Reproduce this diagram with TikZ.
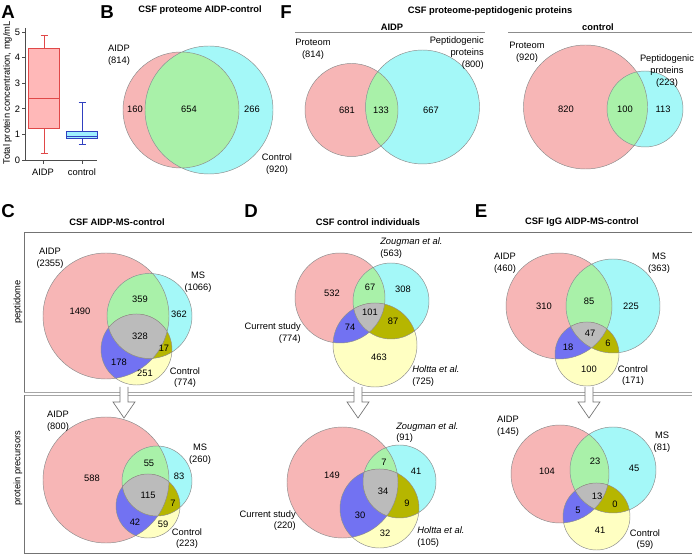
\documentclass[tikz,border=0pt]{standalone}
\usepackage{fontspec}
\setmainfont{Liberation Sans}
\definecolor{vpink}{HTML}{F7B6B6}
\definecolor{vcyan}{HTML}{A4F8F8}
\definecolor{vgreen}{HTML}{A9F1A9}
\definecolor{vblue}{HTML}{7272F2}
\definecolor{volive}{HTML}{B6B600}
\definecolor{vyellow}{HTML}{FFFFC2}
\definecolor{vgray}{HTML}{BBBBBB}
\definecolor{boxred}{HTML}{E04848}
\definecolor{boxpink}{HTML}{FFB8B8}
\definecolor{boxblue}{HTML}{3040C0}
\definecolor{boxcyan}{HTML}{A0F0FF}
\newcommand\vennTwo[6]{%
  \fill[vpink] (#1,#2) circle[radius=#3];
  \fill[vcyan] (#4,#5) circle[radius=#6];
  \begin{scope}\clip (#1,#2) circle[radius=#3];
    \fill[vgreen] (#4,#5) circle[radius=#6];\end{scope}
  \draw[vline] (#1,#2) circle[radius=#3] (#4,#5) circle[radius=#6];}
\newcommand\vennThree[9]{%
  \fill[vpink] (#1,#2) circle[radius=#3];
  \fill[vcyan] (#4,#5) circle[radius=#6];
  \fill[vyellow] (#7,#8) circle[radius=#9];
  \begin{scope}\clip (#1,#2) circle[radius=#3];
    \fill[vgreen] (#4,#5) circle[radius=#6];
    \fill[vblue] (#7,#8) circle[radius=#9];\end{scope}
  \begin{scope}\clip (#4,#5) circle[radius=#6];
    \fill[volive] (#7,#8) circle[radius=#9];
    \clip (#1,#2) circle[radius=#3];
    \fill[vgray] (#7,#8) circle[radius=#9];\end{scope}
  \draw[vline] (#1,#2) circle[radius=#3] (#4,#5) circle[radius=#6] (#7,#8) circle[radius=#9];}
\newcommand\hollowArrow[1]{%
  \fill[white] (#1-4,387) -- (#1+4,387) -- (#1+4,402) -- (#1+11,402) -- (#1,418) -- (#1-11,402) -- (#1-4,402) -- cycle;
  \draw[arrowline] (#1-4,387) -- (#1-4,402) -- (#1-11,402) -- (#1,418) -- (#1+11,402) -- (#1+4,402) -- (#1+4,387);}
\begin{document}
\begin{tikzpicture}[x=0.75pt,y=-0.75pt,
  lbl/.style={font=\fontsize{7}{8.8}\selectfont, inner sep=0pt, align=center},
  ttl/.style={font=\bfseries\fontsize{7}{8.8}\selectfont, inner sep=0pt},
  letter/.style={font=\bfseries\fontsize{14}{14}\selectfont, inner sep=0pt},
  vline/.style={draw=black!45, line width=0.35pt},
  frameline/.style={draw=black!55, line width=0.6pt},
  dblline/.style={draw=black!35, line width=0.6pt},
  arrowline/.style={draw=black!55, line width=0.5pt},
  axisline/.style={draw=black!70, line width=0.5pt}]
\useasboundingbox[fill=white] (0,0) rectangle (696,555);

% ---------- Panel A ----------
\node[letter] (letA) at (8,12.5) {A};
\draw[axisline] (25,28) -- (25,160) -- (97,160);
\foreach \v in {0,...,5}{
  \draw[axisline] (22,160-25.6*\v) -- (25,160-25.6*\v);
  \node[lbl] (tick\v) at (17.5,160-25.6*\v) {\v};}
\draw[axisline] (43,160) -- (43,164);
\draw[axisline] (82,160) -- (82,164);
\node[lbl] (xAIDP) at (43,172) {AIDP};
\node[lbl] (xcontrol) at (82,172) {control};
\node[lbl, rotate=90] (ylab) at (7.5,93) {Total protein concentration, mg/mL};
% AIDP box
\draw[boxred, line width=0.6pt] (44,48) -- (44,35) (40.5,35) -- (47.5,35)
  (44,128) -- (44,153) (40.5,153) -- (47.5,153);
\draw[boxred, fill=boxpink, line width=0.6pt] (28.5,48) rectangle (59.5,128);
\draw[boxred, line width=0.6pt] (28.5,98) -- (59.5,98);
% control box
\draw[boxblue, line width=0.6pt] (82,131) -- (82,102) (78.5,102) -- (85.5,102)
  (82,138) -- (82,144) (78.5,144) -- (85.5,144);
\draw[boxblue, fill=boxcyan, line width=0.6pt] (66.5,131) rectangle (97.5,138);
\draw[boxblue, line width=0.6pt] (66.5,136) -- (97.5,136);

% ---------- Panel B ----------
\node[letter] (letB) at (107,12) {B};
\node[ttl] (ttlB) at (200,10.5) {CSF proteome AIDP-control};
\vennTwo{181}{110}{58}{209}{110}{64}
\node[lbl] (bA) at (119,55) {AIDP\\(814)};
\node[lbl] (bC) at (277,164) {Control\\(920)};
\node[lbl] (b160) at (135,109) {160};
\node[lbl] (b654) at (189,109) {654};
\node[lbl] (b266) at (252,109) {266};

% ---------- Panel F ----------
\node[letter] (letF) at (286,12) {F};
\node[ttl] (ttlF) at (490,11) {CSF proteome-peptidogenic proteins};
\node[ttl] (ttlFa) at (392,27) {AIDP};
\node[ttl] (ttlFc) at (598,27) {control};
\draw[dblline, draw=black!45] (295,32.5) -- (485,32.5);
\draw[dblline, draw=black!45] (508,32.5) -- (692,32.5);
\vennTwo{351.5}{110}{46.5}{422.5}{107}{57}
\node[lbl] (fa1) at (313,49) {Proteom\\(814)};
\node[lbl, align=right, anchor=east] (fa2) at (484,53) {Peptidogenic\\proteins\\(800)};
\node[lbl] (f681) at (347,110) {681};
\node[lbl] (f133) at (381,110) {133};
\node[lbl] (f667) at (431,110) {667};
\vennTwo{585.5}{107}{62}{645}{109}{38}
\node[lbl] (fc1) at (527,52) {Proteom\\(920)};
\node[lbl] (fc2) at (667,71) {Peptidogenic\\proteins\\(223)};
\node[lbl] (f820) at (566,109) {820};
\node[lbl] (f100) at (625,109) {100};
\node[lbl] (f113) at (663,109) {113};

% ---------- Frames C/D/E ----------
\node[letter] (letC) at (8,211) {C};
\node[letter] (letD) at (251,211) {D};
\node[letter] (letE) at (481,211) {E};
\node[ttl] (ttlC) at (117,222) {CSF AIDP-MS-control};
\node[ttl] (ttlD) at (368,222) {CSF control individuals};
\node[ttl] (ttlE) at (582,222) {CSF IgG AIDP-MS-control};
\draw[frameline] (692,232) -- (24,232) -- (24,392);
\draw[dblline] (24,392) -- (692,392);
\draw[dblline] (24,395.5) -- (692,395.5);
\draw[frameline] (24,395.5) -- (24,553) -- (692,553);
\node[lbl, rotate=90] (sidePep) at (18,302) {peptidome};
\node[lbl, rotate=90] (sidePP) at (18,468) {protein precursors};

% ---------- C top ----------
\vennThree{106}{316}{63}{149.5}{316}{42.5}{136.5}{349.5}{35.5}
\node[lbl] (cA) at (50,258) {AIDP\\(2355)};
\node[lbl] (cM) at (198,282) {MS\\(1066)};
\node[lbl] (cK) at (185,377.5) {Control\\(774)};
\node[lbl] (c1490) at (80,311) {1490};
\node[lbl] (c359) at (140,299) {359};
\node[lbl] (c362) at (179,314) {362};
\node[lbl] (c328) at (140,336) {328};
\node[lbl] (c17) at (164,348) {17};
\node[lbl] (c178) at (119,362) {178};
\node[lbl] (c251) at (145,373) {251};

% ---------- C bottom ----------
\vennThree{106}{480}{63}{157}{481}{35}{148}{506}{32}
\node[lbl] (cbA) at (58,421) {AIDP\\(800)};
\node[lbl] (cbM) at (200,454.5) {MS\\(260)};
\node[lbl] (cbK) at (187,538.5) {Control\\(223)};
\node[lbl] (c588) at (92,478) {588};
\node[lbl] (c55) at (149,463) {55};
\node[lbl] (c83) at (179,476) {83};
\node[lbl] (c115) at (148,495) {115};
\node[lbl] (c7) at (173,503) {7};
\node[lbl] (c42) at (135,522) {42};
\node[lbl] (c59) at (163,524) {59};

% ---------- D top ----------
\vennThree{340}{298}{45}{391}{301}{38}{375}{345}{42}
\node[lbl, align=left, anchor=west] (dZ) at (380,248) {\textit{Zougman et al.}\\(563)};
\node[lbl, align=right, anchor=east] (dC) at (301,333) {Current study\\(774)};
\node[lbl, align=left, anchor=west] (dH) at (412,376) {\textit{Holtta et al.}\\(725)};
\node[lbl] (d532) at (332,293) {532};
\node[lbl] (d67) at (370,287) {67};
\node[lbl] (d308) at (403,289) {308};
\node[lbl] (d101) at (370,312) {101};
\node[lbl] (d87) at (393,321) {87};
\node[lbl] (d74) at (350,327) {74};
\node[lbl] (d463) at (379,357) {463};

% ---------- D bottom ----------
\vennThree{342.5}{482.5}{55.5}{399.5}{481.5}{36.5}{379.5}{508.5}{39.5}
\node[lbl, align=left, anchor=west] (dbZ) at (396,432.5) {\textit{Zougman et al.}\\(91)};
\node[lbl, align=right, anchor=east] (dbC) at (296,520.5) {Current study\\(220)};
\node[lbl, align=left, anchor=west] (dbH) at (417,537) {\textit{Holtta et al.}\\(105)};
\node[lbl] (d149) at (332,475) {149};
\node[lbl] (d7) at (384,462) {7};
\node[lbl] (d41) at (416,471) {41};
\node[lbl] (d34) at (383,491) {34};
\node[lbl] (d9) at (407,503) {9};
\node[lbl] (d30) at (360,515) {30};
\node[lbl] (d32) at (385,533) {32};

% ---------- E top ----------
\vennThree{559}{306}{53}{613}{306}{47}{587}{354}{32}
\node[lbl] (eA) at (505,263) {AIDP\\(460)};
\node[lbl] (eM) at (659,263) {MS\\(363)};
\node[lbl] (eK) at (633,375.5) {Control\\(171)};
\node[lbl] (e310) at (544,306) {310};
\node[lbl] (e85) at (589,301) {85};
\node[lbl] (e225) at (631,306) {225};
\node[lbl] (e47) at (590,333) {47};
\node[lbl] (e18) at (568,347) {18};
\node[lbl] (e6) at (608,343) {6};
\node[lbl] (e100) at (589,369) {100};

% ---------- E bottom ----------
\vennThree{560}{474}{49}{613}{470}{43}{596.5}{516.5}{33.5}
\node[lbl] (ebA) at (508,426) {AIDP\\(145)};
\node[lbl] (ebM) at (662,442) {MS\\(81)};
\node[lbl] (ebK) at (645,539.5) {Control\\(59)};
\node[lbl] (e104) at (547,471) {104};
\node[lbl] (e23) at (595,461) {23};
\node[lbl] (e45) at (634,468) {45};
\node[lbl] (e13) at (597,496) {13};
\node[lbl] (e0) at (615,504) {0};
\node[lbl] (e5) at (578,510) {5};
\node[lbl] (e41) at (600,530) {41};

% ---------- arrows ----------
\hollowArrow{124}
\hollowArrow{358}
\hollowArrow{589}
\end{tikzpicture}
\end{document}
